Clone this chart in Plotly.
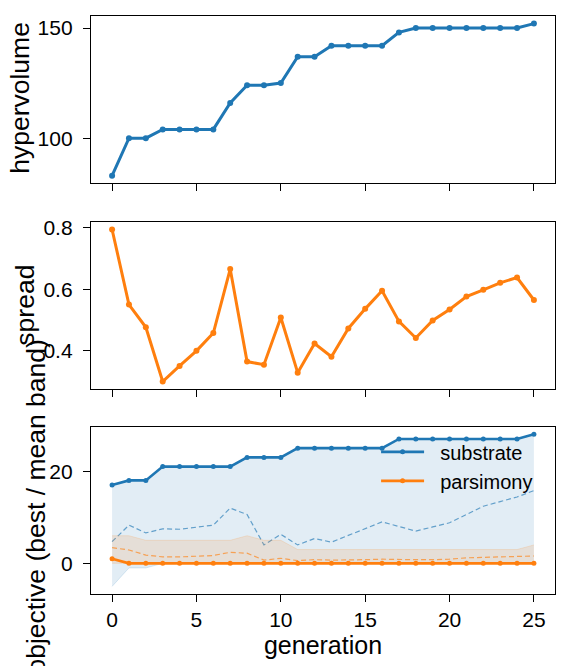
import plotly.graph_objects as go

generation = list(range(26))

hypervolume = [83, 100, 100, 104, 104, 104, 104, 116, 124, 124, 125, 137, 137, 142, 142,
               142, 142, 148, 150, 150, 150, 150, 150, 150, 150, 152]

spread = [0.795, 0.550, 0.476, 0.299, 0.350, 0.399, 0.457, 0.666, 0.364, 0.354, 0.508,
          0.328, 0.423, 0.380, 0.472, 0.536, 0.595, 0.495, 0.441, 0.498, 0.534, 0.576,
          0.598, 0.621, 0.638, 0.565]

substrate_best = [17, 18, 18, 21, 21, 21, 21, 21, 23, 23, 23, 25, 25, 25, 25, 25, 25,
                  27, 27, 27, 27, 27, 27, 27, 27, 28]
substrate_mean = [4.7, 8.3, 6.6, 7.5, 7.4, 7.9, 8.3, 12.0, 10.6, 4.0, 6.3, 4.0, 5.4, 4.6,
                  6.1, 7.5, 9.0, 8.0, 7.0, 7.9, 8.8, 10.6, 12.4, 13.4, 14.4, 15.8]
substrate_low = [-5, -1, -1, 0, 0, 0, 0, 0, 0, 0, 0, 0, 0, 0, 0, 0, 0, 0, 0, 0, 0, 0, 0,
                 0, 0, 0]
substrate_high = substrate_best

parsimony_best = [1] + [0] * 25
parsimony_mean = [3.4, 2.9, 1.8, 1.4, 1.4, 1.6, 1.7, 2.4, 2.2, 0.7, 1.1, 0.6, 0.8, 0.7,
                  0.7, 0.8, 0.9, 0.8, 0.8, 0.8, 0.9, 1.2, 1.3, 1.3, 1.4, 1.6]
parsimony_low = [0] * 26
parsimony_high = [6, 6, 5, 5, 5, 5, 5, 5, 6, 5, 5, 3, 3, 3, 3, 3, 3, 3, 3, 3, 3, 3, 3, 3,
                  3, 4]

series_names = ["substrate", "parsimony"]

BLUE = "#1f77b4"
ORANGE = "#ff7f0e"
FONT = "Liberation Sans, Arial, sans-serif"

W, H = 566, 666
ML, MR, MT, MB = 91, 10, 10, 72
PH = H - MT - MB
PAD = "\u00a0\u00a0"


def dom(y0, y1):
    bottom = H - MB
    return [(bottom - y1) / PH, (bottom - y0) / PH]


def rng(vals):
    lo, hi = min(vals), max(vals)
    m = 0.05 * (hi - lo)
    return [lo - m, hi + m]


fig = go.Figure()

# top: hypervolume
fig.add_trace(go.Scatter(x=generation, y=hypervolume, mode="lines+markers",
                         line=dict(color=BLUE, width=3), marker=dict(size=6, color=BLUE),
                         showlegend=False, xaxis="x", yaxis="y"))
# middle: spread
fig.add_trace(go.Scatter(x=generation, y=spread, mode="lines+markers",
                         line=dict(color=ORANGE, width=3), marker=dict(size=6, color=ORANGE),
                         showlegend=False, xaxis="x2", yaxis="y2"))

# bottom: bands
fig.add_trace(go.Scatter(x=generation, y=substrate_low, mode="lines",
                         line=dict(color="rgba(31,119,180,0.15)", width=1),
                         showlegend=False, hoverinfo="skip", xaxis="x3", yaxis="y3"))
fig.add_trace(go.Scatter(x=generation, y=substrate_high, mode="lines", fill="tonexty",
                         fillcolor="rgba(31,119,180,0.13)",
                         line=dict(color="rgba(31,119,180,0.15)", width=1),
                         showlegend=False, hoverinfo="skip", xaxis="x3", yaxis="y3"))
fig.add_trace(go.Scatter(x=generation, y=substrate_mean, mode="lines",
                         line=dict(color="rgba(31,119,180,0.65)", width=1.2, dash="5px,3px"),
                         showlegend=False, xaxis="x3", yaxis="y3"))
fig.add_trace(go.Scatter(x=generation, y=parsimony_low, mode="lines",
                         line=dict(color="rgba(255,127,14,0.15)", width=1),
                         showlegend=False, hoverinfo="skip", xaxis="x3", yaxis="y3"))
fig.add_trace(go.Scatter(x=generation, y=parsimony_high, mode="lines", fill="tonexty",
                         fillcolor="rgba(255,127,14,0.13)",
                         line=dict(color="rgba(255,127,14,0.15)", width=1),
                         showlegend=False, hoverinfo="skip", xaxis="x3", yaxis="y3"))
fig.add_trace(go.Scatter(x=generation, y=parsimony_mean, mode="lines",
                         line=dict(color="rgba(255,127,14,0.65)", width=1.2, dash="5px,3px"),
                         showlegend=False, xaxis="x3", yaxis="y3"))
fig.add_trace(go.Scatter(x=generation, y=substrate_best, mode="lines+markers",
                         name=PAD + series_names[0],
                         line=dict(color=BLUE, width=2.6), marker=dict(size=5, color=BLUE),
                         xaxis="x3", yaxis="y3"))
fig.add_trace(go.Scatter(x=generation, y=parsimony_best, mode="lines+markers",
                         name=PAD + series_names[1],
                         line=dict(color=ORANGE, width=2.6), marker=dict(size=5, color=ORANGE),
                         xaxis="x3", yaxis="y3"))

axis_common = dict(showline=True, linecolor="black", linewidth=1.3, mirror=True,
                   ticks="outside", ticklen=7, tickwidth=1.3, tickcolor="black",
                   showgrid=False, zeroline=False,
                   tickfont=dict(family=FONT, size=21, color="black"))
xr = [-1.25, 26.25]
xtick = dict(tickmode="array", tickvals=[0, 5, 10, 15, 20, 25])

fig.update_layout(
    width=W, height=H,
    margin=dict(l=ML, r=MR, t=MT, b=MB),
    paper_bgcolor="white", plot_bgcolor="white",
    font=dict(family=FONT, color="black"),
    xaxis=dict(domain=[0, 1], range=xr, anchor="y", showticklabels=False, **xtick, **axis_common),
    xaxis2=dict(domain=[0, 1], range=xr, anchor="y2", showticklabels=False, **xtick, **axis_common),
    xaxis3=dict(domain=[0, 1], range=xr, anchor="y3", **xtick, **axis_common,
                title=dict(text="generation", font=dict(family=FONT, size=25, color="black"),
                           standoff=4)),
    yaxis=dict(domain=dom(10, 179), range=rng(hypervolume), anchor="x",
               tickvals=[100, 150], ticklabelstandoff=6, **axis_common),
    yaxis2=dict(domain=dom(218, 387), range=rng(spread), anchor="x2",
                tickvals=[0.4, 0.6, 0.8], tickformat=".1f", ticklabelstandoff=6, **axis_common),
    yaxis3=dict(domain=dom(425, 594), range=rng(substrate_low + substrate_high), anchor="x3",
                tickvals=[0, 20], ticklabelstandoff=6, **axis_common),
    legend=dict(x=0.6144, y=0.2797, xanchor="left", yanchor="top", bgcolor="rgba(0,0,0,0)",
                traceorder="normal", tracegroupgap=0,
                font=dict(family=FONT, size=20, color="black"), itemwidth=43),
    showlegend=True,
)


def ytitle(text, xpx, ycenter):
    fig.add_annotation(text=text, textangle=-90, xref="paper", yref="paper",
                       x=(xpx - ML) / (W - ML - MR), y=(H - MB - ycenter) / PH,
                       xanchor="center", yanchor="middle", showarrow=False,
                       font=dict(family=FONT, size=26.5, color="black"))


ytitle("hypervolume", 19.5, 93)
ytitle("spread", 24.5, 302)
ytitle("objective (best / mean band)", 35.5, 506)

fig.write_html("out.html")
